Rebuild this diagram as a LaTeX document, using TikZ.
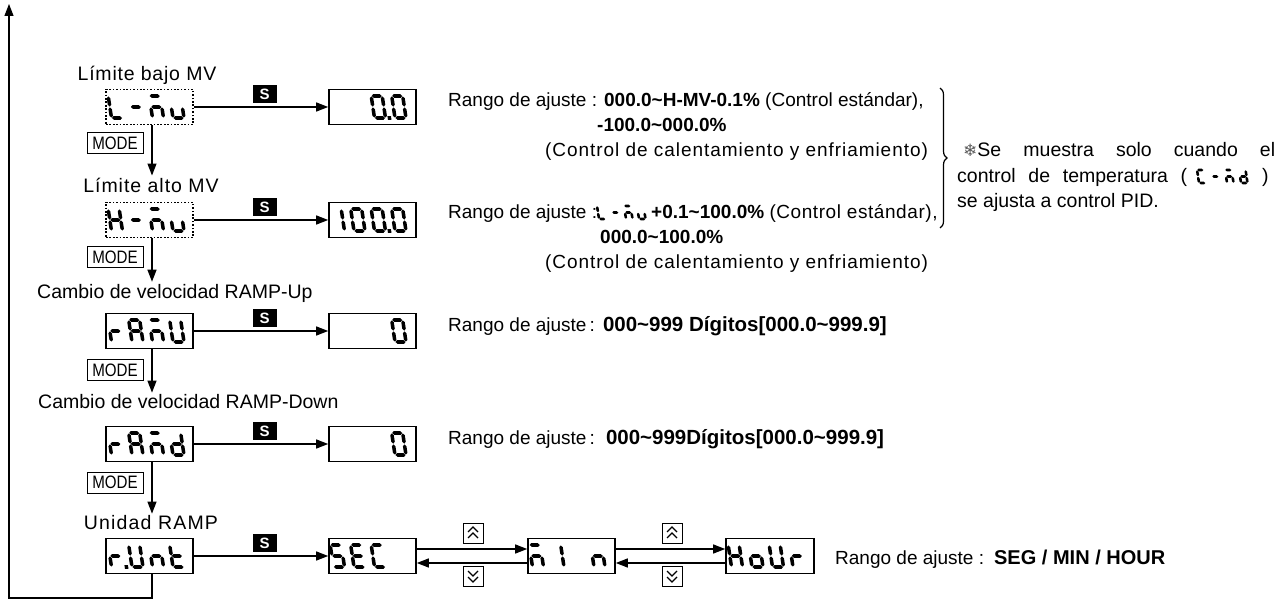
\documentclass[tikz,border=0pt]{standalone}
\usepackage{fontspec}
\usepackage{graphicx}
\setmainfont{Liberation Sans}
\newfontfamily\djv{DejaVu Sans}
\usetikzlibrary{arrows.meta,decorations.pathreplacing,calc}
\newcommand{\fs}[1]{\fontsize{#1}{#1}\selectfont}
\newcommand{\trk}[2]{{\addfontfeature{LetterSpace=#1}#2}}
% seven segment glyph parts (unit cell: width 1, height 2, y up)
\def\segt{0.3}
\def\sgp{0.04}
\newcommand{\hseg}[1]{\fill (\sgp,#1) -- (\sgp+\segt/2,#1+\segt/2) -- (1-\sgp-\segt/2,#1+\segt/2) -- (1-\sgp,#1) -- (1-\sgp-\segt/2,#1-\segt/2) -- (\sgp+\segt/2,#1-\segt/2) -- cycle;}
\newcommand{\vseg}[3]{\fill (#1,#2+\sgp) -- (#1+\segt/2,#2+\sgp+\segt/2) -- (#1+\segt/2,#3-\sgp-\segt/2) -- (#1,#3-\sgp) -- (#1-\segt/2,#3-\sgp-\segt/2) -- (#1-\segt/2,#2+\sgp+\segt/2) -- cycle;}
\def\sega{\hseg{2}}
\def\segb{\vseg{1}{1}{2}}
\def\segc{\vseg{1}{0}{1}}
\def\segd{\hseg{0}}
\def\sege{\vseg{0}{0}{1}}
\def\segf{\vseg{0}{1}{2}}
\def\segg{\hseg{1}}
\def\segp{\fill (1.2,-\segt/2) rectangle (1.2+\segt,\segt/2);}
% #1 x, #2 baseline y, #3 scale, #4 thickness, #5 segments
\newcommand{\sevseg}[5]{%
 \begin{scope}[shift={(#1,#2)}, yscale=-1, scale=#3, xslant=0.15]
  \def\segt{#4}%
  \foreach \sg in {#5} {\csname seg\sg\endcsname}
 \end{scope}}
\newcommand{\dch}[4]{\sevseg{#1+5.5+20.5*#2}{#3}{11}{0.32}{#4}}
\begin{document}
\begin{tikzpicture}[x=1pt,y=-1pt,
 dispbox/.style={draw, line width=1.6pt, minimum width=87pt, minimum height=35pt, inner sep=0},
 dotbox/.style={dispbox, dash pattern=on 1.7pt off 1.7pt, line width=1.7pt},
 sbadge/.style={fill=black, text=white, font=\bfseries\fs{15}, minimum width=24pt, minimum height=18pt, inner sep=0},
 modebox/.style={draw, line width=1pt, font=\fs{18}, inner sep=1pt, minimum height=21pt, minimum width=56pt},
 keybox/.style={draw, line width=1pt, minimum size=20pt, inner sep=0},
 arr/.style={-{Triangle[length=12pt,width=9pt]}, line width=1.2pt},
 lbl/.style={font=\fs{19.5}, inner sep=2pt},
 txt/.style={anchor=base west, inner sep=0, font=\fs{19}},
 note/.style={anchor=base west, inner sep=0, font=\fs{19.5}},
 chev/.style={line width=1.1pt}]
\fill[white] (0,0) rectangle (1288,601);
\useasboundingbox (0,0) rectangle (1288,601);

% ---- labels
\node[lbl] (l1) at (147,75) {\trk{4}{Límite bajo MV}};
\node[lbl] (l2) at (151,185) {\trk{5}{Límite alto MV}};
\node[lbl, anchor=west] (l3) at (35,293) {Cambio de velocidad RAMP-Up};
\node[lbl, anchor=west] (l4) at (36,402) {Cambio de velocidad RAMP-Down};
\node[lbl] (l5) at (151,523) {\trk{6}{Unidad RAMP}};

% ---- name displays
\node[dotbox] (lnu) at (149.5,107) {};
\node[dotbox] (hnu) at (149.5,220) {};
\node[dispbox] (ramu) at (149.5,331) {};
\node[dispbox] (ramd) at (149.5,444) {};
\node[dispbox] (runt) at (149.5,556) {};

% ---- value displays
\node[dispbox] (v1) at (372.5,107) {};
\node[dispbox] (v2) at (372.5,220) {};
\node[dispbox] (v3) at (372.5,331) {};
\node[dispbox] (v4) at (372.5,444) {};
\node[dispbox] (sec) at (372.5,556) {};
\node[dispbox] (min) at (571.5,556) {};
\node[dispbox, minimum width=88pt] (hour) at (770,556) {};

% ---- segment characters
\dch{106}{0}{118}{d,e,f}
\dch{106}{1}{118}{g}
\dch{106}{2}{118}{a,c,e,g}
\dch{106}{3}{118}{c,d,e}
\dch{328}{2}{118}{a,b,c,d,e,f,p}
\dch{328}{3}{118}{a,b,c,d,e,f}

\dch{106}{0}{231}{b,c,e,f,g}
\dch{106}{1}{231}{g}
\dch{106}{2}{231}{a,c,e,g}
\dch{106}{3}{231}{c,d,e}
\dch{328}{0}{231}{b,c}
\dch{328}{1}{231}{a,b,c,d,e,f}
\dch{328}{2}{231}{a,b,c,d,e,f,p}
\dch{328}{3}{231}{a,b,c,d,e,f}

\dch{106}{0}{342}{e,g}
\dch{106}{1}{342}{a,b,c,e,f,g}
\dch{106}{2}{342}{a,c,e,g}
\dch{106}{3}{342}{b,c,d,e,f}
\dch{328}{3}{342}{a,b,c,d,e,f}

\dch{106}{0}{455}{e,g}
\dch{106}{1}{455}{a,b,c,e,f,g}
\dch{106}{2}{455}{a,c,e,g}
\dch{106}{3}{455}{b,c,d,e,g}
\dch{328}{3}{455}{a,b,c,d,e,f}

\dch{106}{0}{567}{e,g,p}
\dch{106}{1}{567}{b,c,d,e,f}
\dch{106}{2}{567}{c,e,g}
\dch{106}{3}{567}{d,e,f,g}
\dch{328}{0}{567}{a,c,d,f,g}
\dch{328}{1}{567}{a,d,e,f,g}
\dch{328}{2}{567}{a,d,e,f}
\dch{527}{0}{567}{a,c,e,g}
\dch{527}{1}{567}{b,c}
\dch{527}{3}{567}{c,e,g}
\dch{726}{0}{567}{b,c,e,f,g}
\dch{726}{1}{567}{c,d,e,g}
\dch{726}{2}{567}{b,c,d,e,f}
\dch{726}{3}{567}{e,g}

% ---- S badges and horizontal arrows
\node[sbadge] (s1) at (264.5,94) {S};
\node[sbadge] (s2) at (264.5,207) {S};
\node[sbadge] (s3) at (264.5,318) {S};
\node[sbadge] (s4) at (264.5,431) {S};
\node[sbadge] (s5) at (264.5,543) {S};
\draw[arr] (lnu) -- (v1);
\draw[arr] (hnu) -- (v2);
\draw[arr] (ramu) -- (v3);
\draw[arr] (ramd) -- (v4);
\draw[arr] (runt) -- (sec);

% ---- MODE badges and vertical arrows
\node[modebox] (m1) at (115,143.5) {\scalebox{0.84}[1]{MODE}};
\node[modebox] (m2) at (115,257) {\scalebox{0.84}[1]{MODE}};
\node[modebox] (m3) at (115,370) {\scalebox{0.84}[1]{MODE}};
\node[modebox] (m4) at (115,482.5) {\scalebox{0.84}[1]{MODE}};
\draw[arr] ([xshift=2.5pt]lnu.south) -- ([xshift=2.5pt]lnu.south |- l2.north);
\draw[arr] ([xshift=2.5pt]hnu.south) -- ([xshift=2.5pt]hnu.south |- l3.north);
\draw[arr] ([xshift=2.5pt]ramu.south) -- ([xshift=2.5pt]ramu.south |- l4.north);
\draw[arr] ([xshift=2.5pt]ramd.south) -- ([xshift=2.5pt]ramd.south |- l5.north);

% ---- return loop
\coordinate (lb) at (9,598);
\coordinate (lt) at (9,4);
\draw[arr] ([xshift=2.5pt]runt.south) |- (lb) -- (lt);

% ---- unit selection arrows
\draw[arr] ([yshift=7pt]sec.east) -- ([yshift=7pt]min.west);
\draw[arr] ([yshift=-7pt]min.west) -- ([yshift=-7pt]sec.east);
\draw[arr] ([yshift=7pt]min.east) -- ([yshift=7pt]hour.west);
\draw[arr] ([yshift=-7pt]hour.west) -- ([yshift=-7pt]min.east);
\node[keybox] (u1) at (473,533) {};
\node[keybox] (d1) at (473,576) {};
\node[keybox] (u2) at (672,533) {};
\node[keybox] (d2) at (672,576) {};
\foreach \k in {u1,u2} {
 \draw[chev] ($(\k.center)+(-5,-1)$) -- ($(\k.center)+(0,-6)$) -- ($(\k.center)+(5,-1)$);
 \draw[chev] ($(\k.center)+(-5,5)$) -- ($(\k.center)+(0,0)$) -- ($(\k.center)+(5,5)$);
}
\foreach \k in {d1,d2} {
 \draw[chev] ($(\k.center)+(-5,1)$) -- ($(\k.center)+(0,6)$) -- ($(\k.center)+(5,1)$);
 \draw[chev] ($(\k.center)+(-5,-5)$) -- ($(\k.center)+(0,0)$) -- ($(\k.center)+(5,-5)$);
}

% ---- range texts
\node[txt] (r1a) at (448,107) {Rango de ajuste : {\bfseries 000.0\textasciitilde H-MV-0.1\%} (Control estándar),};
\node[txt] (r1b) at (597,132) {\bfseries -100.0\textasciitilde 000.0\%};
\node[txt] (r1c) at (545,157) {\trk{5}{(Control de calentamiento y enfriamiento)}};

\node[txt] (r2a) at (448,219) {Rango de ajuste :};
\sevseg{599}{219}{6.5}{0.4}{d,e,f}
\sevseg{613}{219}{6.5}{0.4}{g}
\sevseg{626}{219}{6.5}{0.4}{a,c,e,g}
\sevseg{639}{219}{6.5}{0.4}{c,d,e}
\node[txt] (r2b) at (651,219) {{\bfseries +0.1\textasciitilde 100.0\%} \trk{3}{(Control estándar),}};
\node[txt] (r2c) at (600,244) {\bfseries 000.0\textasciitilde 100.0\%};
\node[txt] (r2d) at (545,269) {\trk{5}{(Control de calentamiento y enfriamiento)}};

\node[txt] (r3) at (448,332) {Rango de ajuste\,:\hspace{8pt}{\bfseries\fs{20.5}000\textasciitilde 999 Dígitos[000.0\textasciitilde 999.9]}};
\node[txt] (r4) at (448,444) {Rango de ajuste\,:\hspace{11pt}{\bfseries\fs{20.5}000\textasciitilde 999Dígitos[000.0\textasciitilde 999.9]}};
\node[txt] (r5) at (835,564) {Rango de ajuste :\hspace{10pt}{\bfseries\fs{20}SEG / MIN / HOUR}};

% ---- brace and note
\coordinate (bt) at (940,88);
\coordinate (bb) at (940,228);
\draw[line width=1.2pt, decorate, decoration={brace, amplitude=7pt}] (bt) -- (bb);
\node[note] (n1) at (963,157) {\makebox[312pt][s]{{\djv\fs{17}\color{black!65}❄}Se muestra solo cuando el}};
\node[note] (n2) at (957,183) {\makebox[230pt][s]{control de temperatura (}};
\sevseg{1199}{183}{6.5}{0.4}{a,d,e,f}
\sevseg{1213}{183}{6.5}{0.4}{g}
\sevseg{1227}{183}{6.5}{0.4}{a,c,e,g}
\sevseg{1241}{183}{6.5}{0.4}{b,c,d,e,g}
\node[note] (n2b) at (1262,183) {)};
\node[note] (n3) at (957,208) {se ajusta a control PID.};
\end{tikzpicture}
\end{document}
